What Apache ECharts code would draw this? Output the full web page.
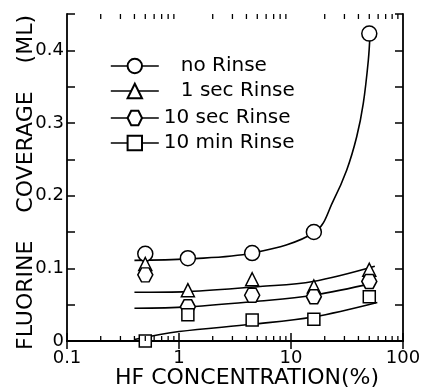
<!DOCTYPE html>
<html>
<head>
<meta charset="utf-8">
<script src="https://cdn.jsdelivr.net/npm/echarts@6/dist/echarts.min.js"></script>
<style>
  html, body { margin: 0; padding: 0; background: #fff; }
  #chart { width: 424px; height: 390px; }
</style>
</head>
<body>
<div id="chart"></div>
<script>
// HF concentration (%) of the measured points
const hfConc = [0.5, 1.2, 4.5, 16, 50];

// measured fluorine coverage (ML)
const noRinse = [0.120, 0.114, 0.121, 0.150, 0.423];
const sec1Rinse = [0.106, 0.070, 0.085, 0.075, 0.098];
const sec10Rinse = [0.091, 0.047, 0.063, 0.061, 0.082];
const min10Rinse = [0.000, 0.036, 0.029, 0.030, 0.061];

// hand-drawn guide curves: [x, y]
const noRinseCurve = [[0.4, 0.111], [1.2, 0.113], [4.5, 0.121], [16.4, 0.150], [24, 0.194], [31.4, 0.235], [38.6, 0.281], [44.2, 0.327], [49, 0.386], [50.8, 0.423]];
const sec1Curve = [[0.4, 0.067], [1.2, 0.068], [5.3, 0.075], [15.7, 0.082], [56, 0.103]];
const sec10Curve = [[0.4, 0.045], [1.2, 0.047], [5.3, 0.055], [15.7, 0.063], [56, 0.080]];
const min10Curve = [[0.4, 0.002], [1, 0.013], [4.5, 0.023], [15.7, 0.033], [59, 0.053]];

const xLabels = [0.1, 1, 10, 100];
const xMinorTicks = [0.2, 0.3, 0.4, 0.5, 0.6, 0.7, 0.8, 0.9, 2, 3, 4, 5, 6, 7, 8, 9, 20, 30, 40, 50, 60, 70, 80, 90];

const FONT = 'DejaVu Sans';
const hexagon = 'path://M0,5 L2.9,0 L8.7,0 L11.6,5 L8.7,10 L2.9,10 Z';

const chart = echarts.init(document.getElementById('chart'));

function markerSeries(name, values, symbol, size) {
  return {
    name,
    type: 'line',
    data: hfConc.map((x, i) => [x, values[i]]),
    symbol,
    symbolSize: size,
    showSymbol: true,
    lineStyle: { width: 0 },
    itemStyle: { color: '#fff', borderColor: '#000', borderWidth: 1.5 },
    z: 5,
  };
}

function curveSeries(data) {
  return {
    type: 'line',
    data,
    showSymbol: false,
    smooth: 0.35,
    lineStyle: { color: '#000', width: 1.6 },
    silent: true,
    z: 3,
  };
}

const yTickFmt = (v) => {
  const r = Math.round(v * 100);
  if (r % 10 !== 0) return '';
  return r === 0 ? '0' : (r / 100).toFixed(1);
};

const legendBase = {
  left: 105,
  orient: 'vertical',
  itemWidth: 48,
  itemHeight: 18,
  itemGap: 5,
  lineStyle: { color: '#000', width: 1.6 },
  textStyle: { fontFamily: FONT, fontSize: 20, color: '#000' },
  selectedMode: false,
};

const option = {
  backgroundColor: '#fff',
  animation: false,
  grid: { left: 67, right: 21, top: 14, bottom: 49, outerBoundsMode: 'none', containLabel: false },
  legend: [
    Object.assign({}, legendBase, {
      top: 51,
      data: ['no Rinse', '1 sec Rinse'],
      textStyle: Object.assign({}, legendBase.textStyle, { padding: [0, 0, 0, 17] }),
    }),
    Object.assign({}, legendBase, {
      top: 103,
      data: ['10 sec Rinse', '10 min Rinse'],
    }),
  ],
  xAxis: [
    {
      type: 'log',
      logBase: 10,
      min: 0.1,
      max: 100,
      position: 'bottom',
      name: 'HF CONCENTRATION(%)',
      nameLocation: 'middle',
      nameGap: 26,
      nameMoveOverlap: false,
      nameTextStyle: { fontFamily: FONT, fontSize: 22, color: '#000', padding: [0, 0, 0, 24] },
      axisLine: { lineStyle: { color: '#000', width: 1.8 } },
      axisTick: { inside: true, length: 8, lineStyle: { color: '#000', width: 1.5 } },
      axisLabel: {
        fontFamily: FONT, fontSize: 18, color: '#000', margin: 8,
        formatter: (v) => (xLabels.includes(+v) ? String(v) : ''),
      },
      splitLine: { show: false },
    },
    {
      type: 'log',
      logBase: 10,
      min: 0.1,
      max: 100,
      position: 'top',
      axisLine: { lineStyle: { color: '#000', width: 1.8 } },
      axisTick: { inside: true, length: 8, lineStyle: { color: '#000', width: 1.5 } },
      axisLabel: { show: false },
      splitLine: { show: false },
    },
  ],
  yAxis: [
    {
      type: 'value',
      min: 0,
      max: 0.45,
      interval: 0.05,
      position: 'left',
      name: 'FLUORINE    COVERAGE    (ML)',
      nameLocation: 'middle',
      nameGap: 30,
      nameMoveOverlap: false,
      nameTextStyle: { fontFamily: FONT, fontSize: 22, color: '#000', padding: [0, 10, 0, 0] },
      axisLine: { lineStyle: { color: '#000', width: 1.8 } },
      axisTick: { inside: true, length: 8, lineStyle: { color: '#000', width: 1.5 } },
      axisLabel: { fontFamily: FONT, fontSize: 18, color: '#000', margin: 3, formatter: yTickFmt },
      splitLine: { show: false },
    },
    {
      type: 'value',
      min: 0,
      max: 0.45,
      interval: 0.05,
      position: 'right',
      axisLine: { lineStyle: { color: '#000', width: 1.8 } },
      axisTick: { inside: true, length: 8, lineStyle: { color: '#000', width: 1.5 } },
      axisLabel: { show: false },
      splitLine: { show: false },
    },
  ],
  series: [
    curveSeries(noRinseCurve),
    curveSeries(sec1Curve),
    curveSeries(sec10Curve),
    curveSeries(min10Curve),
    markerSeries('no Rinse', noRinse, 'circle', 15),
    markerSeries('1 sec Rinse', sec1Rinse, 'triangle', 13),
    markerSeries('10 sec Rinse', sec10Rinse, hexagon, [15, 14]),
    markerSeries('10 min Rinse', min10Rinse, 'rect', 12),
    {
      // log minor ticks on bottom and top edges
      type: 'custom',
      data: xMinorTicks.map((v) => [v]),
      encode: { x: 0 },
      silent: true,
      clip: false,
      z: 6,
      renderItem: (params, api) => {
        const b = api.coord([api.value(0), 0]);
        const t = api.coord([api.value(0), 0.45]);
        const style = { stroke: '#000', lineWidth: 1.3 };
        return {
          type: 'group',
          children: [
            { type: 'line', shape: { x1: b[0], y1: b[1], x2: b[0], y2: b[1] - 5 }, style },
            { type: 'line', shape: { x1: t[0], y1: t[1], x2: t[0], y2: t[1] + 5 }, style },
          ],
        };
      },
    },
  ],
};

chart.setOption(option);
</script>
</body>
</html>
